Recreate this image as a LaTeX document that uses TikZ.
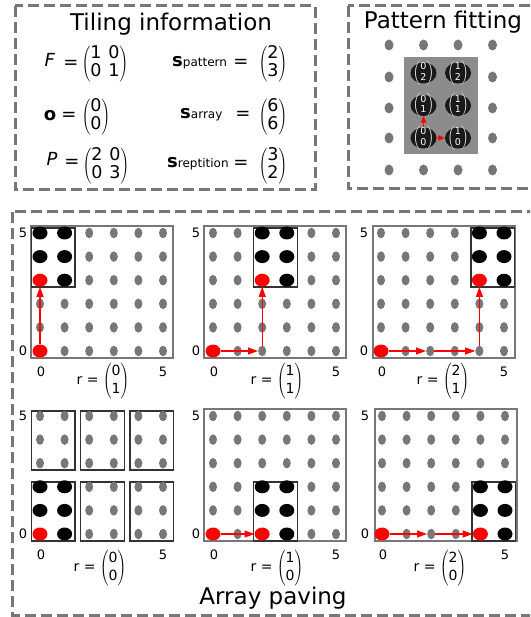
\documentclass[tikz,border=0pt]{standalone}
\usepackage{fontspec}
\setmainfont{DejaVu Sans}
\usetikzlibrary{arrows.meta,shapes.geometric}
\definecolor{dgray}{HTML}{777777}
\definecolor{fillgray}{HTML}{8C8C8C}
\definecolor{bred}{HTML}{FF0000}
\newcommand\colvec[2]{$\left(\vcenter{\hbox{\begin{tabular}{@{}c@{}}#1\\#2\end{tabular}}}\right)$}
\newcommand\mattwo[4]{$\left(\vcenter{\hbox{\begin{tabular}{@{}c@{\hspace{0.4em}}c@{}}#1&#2\\#3&#4\end{tabular}}}\right)$}
\newcommand\fsTitle{\fontsize{23}{27}\selectfont}
\newcommand\fsEq{\fontsize{18}{21}\selectfont}
\newcommand\fsMat{\fontsize{17.5}{17.5}\selectfont}
\newcommand\fsSub{\fontsize{12}{14}\selectfont}
\newcommand\fsLab{\fontsize{13}{17}\selectfont}
\newcommand\fsR{\fontsize{14}{18}\selectfont}
\newcommand\fsTiny{\fontsize{9.5}{10.5}\selectfont}
\tikzset{
  dashbox/.style={draw=dgray, line width=3pt, dash pattern=on 11pt off 5pt},
  graydot/.style={ellipse, fill=dgray, draw=none, inner sep=0pt, minimum width=8pt, minimum height=10.5pt},
  blackdot/.style={ellipse, fill=black, draw=none, inner sep=0pt, minimum width=15pt, minimum height=13pt},
  reddot/.style={ellipse, fill=bred, draw=none, inner sep=0pt, minimum width=15pt, minimum height=13pt},
  pfdot/.style={ellipse, fill=dgray, draw=none, inner sep=0pt, minimum width=9pt, minimum height=11pt},
  pfblack/.style={ellipse, fill=black!90, draw=none, inner sep=0pt, minimum width=26pt, minimum height=21pt},
  pftext/.style={inner sep=0pt, text=white, font=\fsTiny},
  pframe/.style={draw=dgray, line width=1.5pt},
  patbox/.style={draw=black!80, line width=1.5pt},
  redarr/.style={draw=bred, line width=1.1pt, -{Triangle[length=10pt,width=7pt]}},
  pfarr/.style={draw=bred, line width=1pt, -{Triangle[length=6.5pt,width=5.5pt]}},
  lab/.style={inner sep=0pt, font=\fsLab},
  rlab/.style={inner sep=0pt, font=\fsR},
}
\newcommand\drawdots[5]{%
  \foreach \i in {0,...,5}{%
    \foreach \j in {0,...,5}{%
      \pgfmathtruncatemacro\inpat{(\i>=#4)&&(\i<=#4+1)&&(\j>=#5)&&(\j<=#5+2)}%
      \pgfmathtruncatemacro\isred{((\i==#4)&&(\j==#5))||((\i==0)&&(\j==0))}%
      \ifnum\isred=1 \def\dotsty{reddot}\else\ifnum\inpat=1 \def\dotsty{blackdot}\else\def\dotsty{graydot}\fi\fi
      \node[\dotsty] (#1-\i-\j) at ({#2+\i*24.6},{#3-\j*23.6}) {};
    }%
  }%
}
\newcommand\patrect[4]{%
  \draw[patbox] ({#1+#3*24.6-8.5},{#2-(#4+2)*23.6-5}) rectangle ({#1+(#3+1)*24.6+10.5},{#2-#4*23.6+7});%
}
\newcommand\panellabels[3]{%
  \node[lab] (#1-l5) at ({#2-17},{#3-5*23.6}) {5};
  \node[lab] (#1-l0) at ({#2-17},{#3}) {0};
  \node[lab] (#1-b0) at ({#2+1},{#3+21}) {0};
  \node[lab] (#1-b5) at ({#2+5*24.6},{#3+21}) {5};
}
\begin{document}
\begin{tikzpicture}[x=1pt,y=-1pt]
\useasboundingbox (0,0) rectangle (530,617);
\clip (0,0) rectangle (530,617);

% ---------- Tiling information ----------
\draw[dashbox] (15,6) rectangle (315,190);
\node[font=\fsTitle] (ti-title) at (171,24) {Tiling information};
\node[font=\fsEq, inner sep=0pt] (ti-F) at (50,60) {\textit{F}};
\node[font=\fsEq, inner sep=0pt] (ti-Feq) at (71,64) {=};
\node[font=\fsMat, inner sep=0pt] (ti-Fmat) at (105,64) {\mattwo{1}{0}{0}{1}};
\node[font=\fsEq, inner sep=0pt] (ti-o) at (50,116) {\textbf{o}};
\node[font=\fsEq, inner sep=0pt] (ti-oeq) at (69,116) {=};
\node[font=\fsMat, inner sep=0pt] (ti-omat) at (96,117) {\colvec{0}{0}};
\node[font=\fsEq, inner sep=0pt] (ti-P) at (52,159) {\textit{P}};
\node[font=\fsEq, inner sep=0pt] (ti-Peq) at (72,163) {=};
\node[font=\fsMat, inner sep=0pt] (ti-Pmat) at (106,166) {\mattwo{2}{0}{0}{3}};

\node[anchor=base west, inner sep=0pt] (ti-sp) at (172,67) {{\fsEq\bfseries s}{\fsSub pattern}};
\node[font=\fsEq, inner sep=0pt] (ti-speq) at (241,63) {=};
\node[font=\fsMat, inner sep=0pt] (ti-spmat) at (273,64) {\colvec{2}{3}};
\node[anchor=base west, inner sep=0pt] (ti-sa) at (180,119) {{\fsEq\bfseries s}{\fsSub array}};
\node[font=\fsEq, inner sep=0pt] (ti-saeq) at (243,115) {=};
\node[font=\fsMat, inner sep=0pt] (ti-samat) at (273,117) {\colvec{6}{6}};
\node[anchor=base west, inner sep=0pt] (ti-sr) at (167,168) {{\fsEq\bfseries s}{\fsSub reptition}};
\node[font=\fsEq, inner sep=0pt] (ti-sreq) at (241,164) {=};
\node[font=\fsMat, inner sep=0pt] (ti-srmat) at (273,166) {\colvec{3}{2}};

% ---------- Pattern fitting ----------
\draw[dashbox] (348,6) rectangle (560,189);
\node[font=\fsTitle] (pf-title) at (443,22) {Pattern fitting};
\fill[fillgray] (404,57) rectangle (478,154);
\foreach \x [count=\ci from 0] in {389,423.5,458,492.5}{
  \foreach \y [count=\ri from 0] in {45,77,108,138,170}{
    \pgfmathtruncatemacro\inside{(\ci>=1)&&(\ci<=2)&&(\ri>=1)&&(\ri<=3)}
    \ifnum\inside=0 \node[pfdot] (pf-g-\ci-\ri) at (\x,\y) {};\fi
  }
}
\foreach \c/\x in {0/423.5,1/458}{
  \foreach \r/\y in {0/138,1/105.5,2/73}{
    \node[pfblack] (pf-\c-\r) at (\x,\y) {};
    \node[pftext] (pf-t-\c-\r) at (pf-\c-\r) {\colvec{\c}{\r}};
  }
}
\draw[pfarr] (pf-0-0.north) -- (pf-0-1.south);
\draw[pfarr] (pf-0-0.east) -- (pf-1-0.west);

% ---------- Array paving ----------
\draw[dashbox] (12,212) rectangle (560,615);
\node[font=\fsTitle] (ap-title) at (273,598) {Array paving};

% panel 1
\draw[pframe] (31,226) rectangle (173,358);
\patrect{40}{351}{0}{3}
\drawdots{pa}{40}{351}{0}{3}
\panellabels{pa}{40}{351}
\draw[redarr] (pa-0-0.north) -- (pa-0-3.south);
\node[rlab] (pa-r) at (103,381) {r = \colvec{0}{1}};

% panel 2
\draw[pframe] (204,226) rectangle (346,358);
\patrect{213}{351}{2}{3}
\drawdots{pb}{213}{351}{2}{3}
\panellabels{pb}{213}{351}
\draw[redarr] (pb-0-0.east) -- (pb-2-0.west);
\draw[redarr] (pb-2-0.north) -- (pb-2-3.south);
\node[rlab] (pb-r) at (277,381) {r = \colvec{1}{1}};

% panel 3
\draw[pframe] (373,226) rectangle (515,358);
\patrect{381}{351}{4}{3}
\drawdots{pc}{381}{351}{4}{3}
\panellabels{pc}{381}{351}
\draw[redarr] (pc-0-0.east) -- (pc-2-0.west);
\draw[redarr] (pc-2-0.east) -- (pc-4-0.west);
\draw[redarr] (pc-4-0.north) -- (pc-4-3.south);
\node[rlab] (pc-r) at (443,381) {r = \colvec{2}{1}};

% panel 4
\foreach \c in {0,2,4}{\foreach \r in {0,3}{\patrect{40}{534}{\c}{\r}}}
\drawdots{pd}{40}{534}{0}{0}
\panellabels{pd}{40}{534}
\node[rlab] (pd-r) at (100,568) {r = \colvec{0}{0}};

% panel 5
\draw[pframe] (204,409) rectangle (346,541);
\patrect{213}{534}{2}{0}
\drawdots{pe}{213}{534}{2}{0}
\panellabels{pe}{213}{534}
\draw[redarr] (pe-0-0.east) -- (pe-2-0.west);
\node[rlab] (pe-r) at (277,568) {r = \colvec{1}{0}};

% panel 6
\draw[pframe] (375,409) rectangle (517,541);
\patrect{382}{534}{4}{0}
\drawdots{pf6}{382}{534}{4}{0}
\panellabels{pf6}{382}{534}
\draw[redarr] (pf6-0-0.east) -- (pf6-2-0.west);
\draw[redarr] (pf6-2-0.east) -- (pf6-4-0.west);
\node[rlab] (pf6-r) at (440,568) {r = \colvec{2}{0}};
\end{tikzpicture}
\end{document}
